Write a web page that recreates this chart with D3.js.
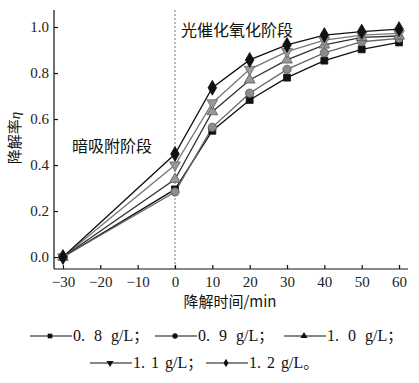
<!DOCTYPE html>
<html><head><meta charset="utf-8">
<script src="https://cdn.jsdelivr.net/npm/d3@7"></script>
<style>body{margin:0;background:#fff}svg{display:block}</style>
</head><body>
<script>
const time = [-30, 0, 10, 20, 30, 40, 50, 60];
const dose = ["0.8", "0.9", "1.0", "1.1", "1.2"];
const s08 = [0, 0.294, 0.549, 0.683, 0.780, 0.854, 0.903, 0.933];
const s09 = [0, 0.283, 0.564, 0.712, 0.816, 0.888, 0.936, 0.951];
const s10 = [0, 0.338, 0.632, 0.770, 0.857, 0.922, 0.955, 0.961];
const s11 = [0, 0.400, 0.670, 0.816, 0.893, 0.943, 0.965, 0.972];
const s12 = [0, 0.448, 0.736, 0.857, 0.922, 0.965, 0.980, 0.991];
const xTicks = [-30, -20, -10, 0, 10, 20, 30, 40, 50, 60];
const yTicks = [0, 0.2, 0.4, 0.6, 0.8, 1.0];
const legendText = ["0. 8 g/L", "0. 9 g/L", "1. 0 g/L", "1. 1 g/L", "1. 2 g/L"];
const legendPunct = ["；", "；", "；", "；", "。"];

const series = [
  {vals: s08, sym: d3.symbolSquare, fill: "#111", stroke: "#111", line: "#111", size: 48},
  {vals: s09, sym: d3.symbolCircle, fill: "#8c8c8c", stroke: "#555", line: "#666", size: 55},
  {vals: s10, sym: d3.symbolTriangle, fill: "#999", stroke: "#555", line: "#333", size: 50},
  {vals: s11, sym: d3.symbolTriangle, fill: "#999", stroke: "#666", line: "#777", size: 50, rot: 180},
  {vals: s12, sym: d3.symbolDiamond, fill: "#111", stroke: "#111", line: "#111", size: 64}
];

const W = 419, H = 383;
const m = {l: 54, t: 10, r: 408, b: 269};
const svg = d3.select("body").append("svg").attr("width", W).attr("height", H);
const x = d3.scaleLinear().domain([-32.4, 62.4]).range([m.l, m.r]);
const y = d3.scaleLinear().domain([-0.052, 1.074]).range([m.b, m.t]);
const serif = "'Liberation Serif','DejaVu Serif',serif";
const cjk = "'Noto Sans CJK SC','Noto Sans CJK JP',sans-serif";

svg.append("line").attr("x1", x(0)).attr("x2", x(0)).attr("y1", m.t).attr("y2", m.b)
  .attr("stroke", "#777").attr("stroke-width", 1).attr("stroke-dasharray", "2,2");

const xa = svg.append("g").attr("transform", `translate(0,${m.b})`)
  .call(d3.axisBottom(x).tickValues(xTicks).tickSizeInner(-4).tickSizeOuter(0).tickPadding(7)
    .tickFormat(d => d < 0 ? "\u2212" + Math.abs(d) : d));
const ya = svg.append("g").attr("transform", `translate(${m.l},0)`)
  .call(d3.axisLeft(y).tickValues(yTicks).tickSizeInner(-4).tickSizeOuter(0).tickPadding(5)
    .tickFormat(d3.format(".1f")));
[xa, ya].forEach(a => {
  a.select(".domain").attr("stroke", "#111").attr("stroke-width", 1.2);
  a.selectAll(".tick line").attr("stroke", "#111").attr("stroke-width", 1.2);
  a.selectAll("text").attr("font-family", serif).attr("font-size", 15).attr("fill", "#222");
});
xa.select(".domain").attr("d", `M${m.l},0H${m.r}`);
ya.select(".domain").attr("d", `M0,${m.t}V${m.b}`);

const line = d3.line().x((d, i) => x(time[i])).y(d => y(d));
series.forEach(s => {
  svg.append("path").attr("d", line(s.vals)).attr("fill", "none")
    .attr("stroke", s.line).attr("stroke-width", 1.3);
});
series.forEach(s => {
  const sym = d3.symbol().type(s.sym).size(s.size);
  svg.append("g").selectAll("path").data(s.vals).join("path")
    .attr("d", sym)
    .attr("transform", (d, i) => `translate(${x(time[i])},${y(d)})${s.rot ? " rotate(" + s.rot + ")" : ""}`)
    .attr("fill", s.fill).attr("stroke", s.stroke).attr("stroke-width", 0.8);
});

svg.append("text").attr("x", 181).attr("y", 36).attr("font-family", cjk).attr("font-size", 16)
  .attr("fill", "#111").text("光催化氧化阶段");
svg.append("text").attr("x", 72).attr("y", 152).attr("font-family", cjk).attr("font-size", 16)
  .attr("fill", "#111").text("暗吸附阶段");

const yt = svg.append("text").attr("transform", "translate(20,138) rotate(-90)")
  .attr("text-anchor", "middle").attr("font-family", cjk).attr("font-size", 15).attr("fill", "#111");
yt.append("tspan").text("降解率");
yt.append("tspan").attr("font-family", serif).attr("font-style", "italic").text("η");
svg.append("text").attr("x", 230).attr("y", 307).attr("text-anchor", "middle")
  .attr("font-family", cjk).attr("font-size", 15).attr("fill", "#111")
  .text("降解时间/min");

const pos = [[30, 341], [155, 341], [284, 341], [90, 368], [206, 368]];
series.forEach((s, i) => {
  const [lx, ly] = pos[i];
  const g = svg.append("g").attr("transform", `translate(${lx},${ly - 5})`);
  g.append("line").attr("x1", 0).attr("x2", 42).attr("stroke", "#111").attr("stroke-width", 1.1);
  g.append("path").attr("d", d3.symbol().type(s.sym).size(22)())
    .attr("transform", `translate(20,0)${s.rot ? " rotate(180)" : ""}`).attr("fill", "#111");
  const t = g.append("text").attr("x", 43).attr("y", 5).attr("font-family", serif).attr("font-size", 16)
    .attr("word-spacing", i < 3 ? 5 : 2).attr("fill", "#111");
  t.append("tspan").text(legendText[i]);
  t.append("tspan").attr("font-family", cjk).attr("font-size", 15).text(legendPunct[i]);
});
</script>
</body></html>
